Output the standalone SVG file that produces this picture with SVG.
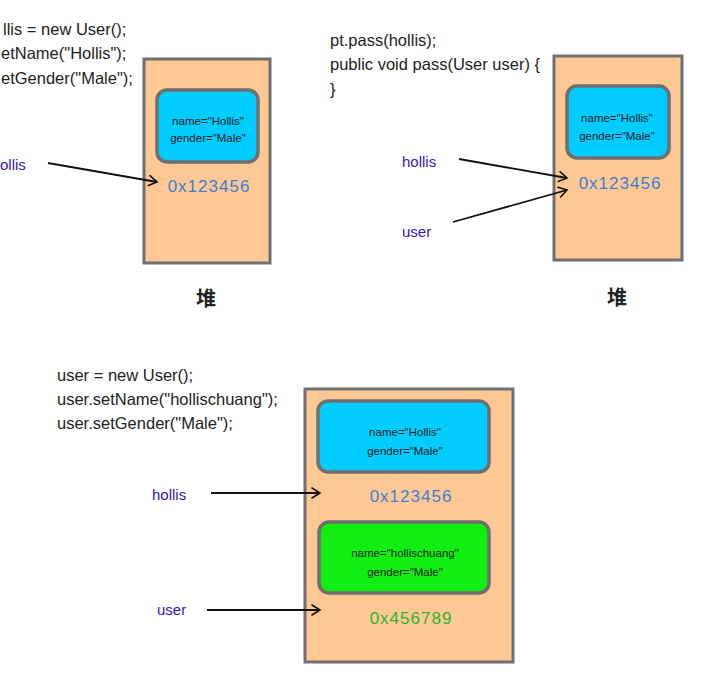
<svg xmlns="http://www.w3.org/2000/svg" width="713" height="674" viewBox="0 0 713 674">
<defs>
<marker id="arr" markerWidth="12" markerHeight="12" refX="10" refY="6" orient="auto" markerUnits="userSpaceOnUse">
<path d="M2,1 L10,6 L2,11" fill="none" stroke="#111" stroke-width="1.6" stroke-linecap="round"/>
</marker>
<style>
.code{font-family:"Liberation Sans",Arial,sans-serif;font-size:16.5px;fill:#222;}
.heap{fill:#FDC893;stroke:#6f6f6f;stroke-width:3;}
.obj{stroke:#6f6f6f;stroke-width:3.5;}
.blue{fill:#00CCFF;}
.green{fill:#11EE11;}
.field{font-family:"Liberation Sans",Arial,sans-serif;font-size:11.5px;fill:#1a1a1a;text-anchor:middle;}
.addr{font-family:"Liberation Sans",Arial,sans-serif;font-size:17px;text-anchor:middle;letter-spacing:1px;}
.addrb{fill:#3B7FD6;}
.addrg{fill:#2DB52D;}
.var{font-family:"Liberation Sans",Arial,sans-serif;font-size:15px;fill:#3D12B8;}
.dui{font-family:"Noto Sans CJK SC",sans-serif;font-size:20px;font-weight:bold;fill:#222;text-anchor:middle;}
.conn{stroke:#111;stroke-width:1.8;fill:none;marker-end:url(#arr);}
</style>
</defs>

<g id="code1">
<text class="code" x="3" y="35">llis = new User();</text>
<text class="code" x="1" y="59">etName("Hollis");</text>
<text class="code" x="1" y="84">etGender("Male");</text>
</g>
<g id="heap1">
<rect class="heap" x="144" y="59" width="126" height="204"/>
<rect class="obj blue" x="157" y="90" width="101" height="72" rx="10"/>
<text class="field" x="208" y="125">name="Hollis"</text>
<text class="field" x="208" y="142">gender="Male"</text>
<text class="addr addrb" x="209" y="192">0x123456</text>
</g>
<g id="var1-hollis"><text class="var" x="0" y="170">ollis</text></g>
<g id="label1"><text class="dui" x="206" y="306">堆</text></g>

<g id="code2">
<text class="code" x="330" y="46">pt.pass(hollis);</text>
<text class="code" x="330" y="70">public void pass(User user) {</text>
<text class="code" x="330" y="95">}</text>
</g>
<g id="heap2">
<rect class="heap" x="554" y="56" width="128" height="204"/>
<rect class="obj blue" x="567" y="86" width="102" height="72" rx="10"/>
<text class="field" x="617" y="122">name="Hollis"</text>
<text class="field" x="617" y="140">gender="Male"</text>
<text class="addr addrb" x="620" y="189">0x123456</text>
</g>
<g id="var2-hollis"><text class="var" x="402" y="167">hollis</text></g>
<g id="var2-user"><text class="var" x="402" y="237">user</text></g>
<g id="label2"><text class="dui" x="617" y="305">堆</text></g>

<g id="code3">
<text class="code" x="57" y="381">user = new User();</text>
<text class="code" x="57" y="405">user.setName("hollischuang");</text>
<text class="code" x="57" y="429">user.setGender("Male");</text>
</g>
<g id="heap3">
<rect class="heap" x="305" y="389" width="208" height="273"/>
<rect class="obj blue" x="318" y="401" width="171" height="71" rx="10"/>
<text class="field" x="405" y="436">name="Hollis"</text>
<text class="field" x="405" y="455">gender="Male"</text>
<text class="addr addrb" x="411" y="502">0x123456</text>
<rect class="obj green" x="319" y="522" width="170" height="71" rx="10"/>
<text class="field" x="405" y="557">name="hollischuang"</text>
<text class="field" x="405" y="576">gender="Male"</text>
<text class="addr addrg" x="411" y="624">0x456789</text>
</g>
<g id="var3-hollis"><text class="var" x="152" y="500">hollis</text></g>
<g id="var3-user"><text class="var" x="157" y="615">user</text></g>

<g id="connectors">
<line class="conn" x1="48" y1="163" x2="157" y2="182"/>
<line class="conn" x1="459" y1="159" x2="567" y2="178"/>
<line class="conn" x1="453" y1="222" x2="567" y2="190"/>
<line class="conn" x1="211" y1="493" x2="320" y2="493"/>
<line class="conn" x1="207" y1="610" x2="320" y2="610"/>
</g>
</svg>
